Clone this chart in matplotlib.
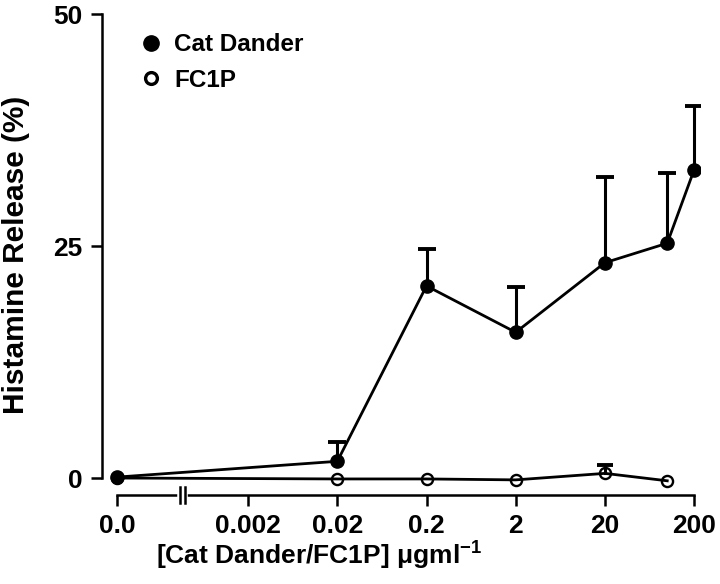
import numpy as np
import matplotlib
matplotlib.use("Agg")
import matplotlib.pyplot as plt
from matplotlib.transforms import blended_transform_factory

plt.rcParams['font.family'] = ['Liberation Sans', 'DejaVu Sans']
plt.rcParams['font.weight'] = 'bold'
plt.rcParams['mathtext.fontset'] = 'custom'
plt.rcParams['mathtext.rm'] = 'Liberation Sans:bold'
plt.rcParams['mathtext.bf'] = 'Liberation Sans:bold'
plt.rcParams['mathtext.it'] = 'Liberation Sans'

# DATA
conc = [0.0, 0.02, 0.2, 2, 20, 100, 200]            # ug/ml
cat_dander = [0.1, 1.8, 20.7, 15.7, 23.2, 25.3, 33.2]
cat_dander_err = [0.0, 2.1, 4.0, 4.9, 9.2, 7.6, 6.9]
fc1p_conc = [0.0, 0.02, 0.2, 2, 20, 100]
fc1p = [0.0, -0.1, -0.1, -0.2, 0.5, -0.3]
fc1p_err = [0.0, 0.0, 0.0, 0.0, 0.9, 0.0]

xtick_vals = [0.0, 0.002, 0.02, 0.2, 2, 20, 200]
xtick_labels = ["0.0", "0.002", "0.02", "0.2", "2", "20", "200"]
ytick_vals = [0, 25, 50]

# where "0.0" sits on the log axis (left of the break)
ZERO_POS = 6.8e-5
BREAK = (3.45e-4, 3.93e-4)


def to_pos(vals):
    return [ZERO_POS if v == 0 else v for v in vals]


def upper_bars(ax, xs, ys, errs, capw):
    # only the upper half of each error bar, as in the original
    for x, y, e in zip(xs, ys, errs):
        if e <= 0:
            continue
        ax.plot([x, x], [y, y + e], color='black', lw=2.2, zorder=2)
        ax.plot([x], [y + e], marker='_', ms=capw, mew=2.8, color='black', zorder=2)


fig = plt.figure(figsize=(7.2, 5.84), dpi=100)
ax = fig.add_axes([102 / 720, (584 - 495) / 584, (700 - 102) / 720, (495 - 14) / 584])
ax.set_xscale('log')
ax.set_xlim(4.6e-5, 233)
ax.set_ylim(-1.83, 50)

x_cd = to_pos(conc)
x_fc = to_pos(fc1p_conc)
upper_bars(ax, x_cd, cat_dander, cat_dander_err, 13)
upper_bars(ax, x_fc, fc1p, fc1p_err, 12)

ax.plot(x_fc, fc1p, color='black', lw=2, marker='o', ms=8, mfc='none',
        mec='black', mew=1.7, zorder=3)
ax.plot(x_cd, cat_dander, color='black', lw=2, marker='o', ms=9.5, mfc='black',
        mec='black', zorder=4)

# legend
ax.plot([], [], 'o', color='black', ms=11, label='Cat Dander')
ax.plot([], [], 'o', mfc='none', mec='black', mew=2.4, ms=8.5, label='FC1P')
handles, labels = ax.get_legend_handles_labels()
ax.legend(handles[-2:], labels[-2:], loc='upper left', bbox_to_anchor=(0.025, 1.005),
          frameon=False, handletextpad=0.45, handlelength=1.0,
          labelspacing=0.5, prop={'weight': 'bold', 'size': 17.5})

# axes styling
for s in ['top', 'right']:
    ax.spines[s].set_visible(False)
ax.spines['left'].set_bounds(0, 50)
ax.spines['bottom'].set_bounds(ZERO_POS, 200)
ax.spines['left'].set_linewidth(1.8)
ax.spines['bottom'].set_linewidth(1.8)

ax.set_yticks(ytick_vals)
ax.set_yticklabels([str(v) for v in ytick_vals])
ax.set_xticks(to_pos(xtick_vals))
ax.set_xticklabels(xtick_labels)
ax.minorticks_off()
ax.tick_params(axis='both', length=8, width=1.8, pad=6, labelsize=19)

# axis break on the x axis
trans = blended_transform_factory(ax.transData, ax.transAxes)
ax.plot(BREAK, [0, 0], color='white', lw=4, transform=trans, clip_on=False, zorder=5)
for bx in BREAK:
    ax.plot([bx, bx], [-0.017, 0.017], color='black', lw=1.8, transform=trans,
            clip_on=False, zorder=6)

ax.set_xlabel(r"[Cat Dander/FC1P] $\mu$gml$^{-1}$", fontsize=19, fontweight='bold')
ax.xaxis.set_label_coords(0.363, -0.093)
ax.set_ylabel("Histamine Release (%)", fontsize=21.5, fontweight='bold')
ax.yaxis.set_label_coords(-0.12, 0.5)

fig.savefig("out.png", dpi=100)
